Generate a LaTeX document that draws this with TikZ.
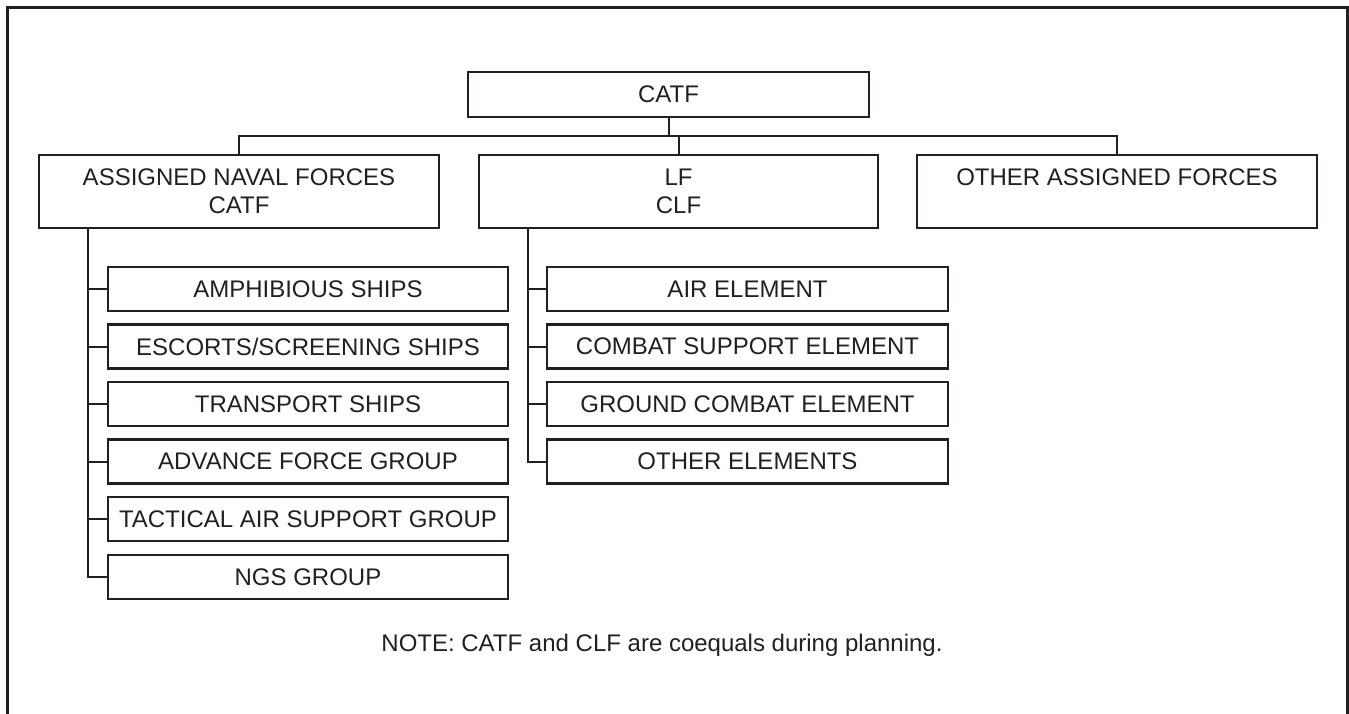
\documentclass[tikz,border=0pt]{standalone}
\usepackage{fontspec}
\setmainfont{Liberation Sans}
\definecolor{ink}{RGB}{35,31,32}
\begin{document}
\begin{tikzpicture}[x=1pt,y=-1pt,
  orgbox/.style={draw=ink,line width=2.2pt,rectangle,inner sep=0pt,
    minimum width=400pt,text=ink,align=center,
    font=\fontsize{24}{28}\selectfont},
  topbox/.style={orgbox,minimum height=73pt},
  subbox/.style={orgbox,minimum height=44pt},
  link/.style={draw=ink,line width=2pt}]
\useasboundingbox (0,0) rectangle (1349,714);
% open frame (no bottom edge)
\draw[ink,line width=3pt] (7.5,714) -- (7.5,7.5) -- (1347.8,7.5) -- (1347.8,714);

% top command
\node[orgbox,minimum width=401pt,minimum height=45pt] (catf) at (668.5,94.5) {CATF};

% second level
\node[topbox] (anf) at (239,191.5) {ASSIGNED NAVAL FORCES\\CATF};
\node[topbox,minimum width=399pt] (lf) at (678.5,191.5) {LF\\CLF};
\node[topbox] (oaf) at (1117,191.5) {OTHER ASSIGNED FORCES\\\mbox{}};

% naval force components
\node[subbox] (s1) at (308,289)   {AMPHIBIOUS SHIPS};
\node[subbox] (s2) at (308,346.5) {ESCORTS/SCREENING SHIPS};
\node[subbox] (s3) at (308,404)   {TRANSPORT SHIPS};
\node[subbox] (s4) at (308,461.5) {ADVANCE FORCE GROUP};
\node[subbox] (s5) at (308,519)   {TACTICAL AIR SUPPORT GROUP};
\node[subbox] (s6) at (308,577)   {NGS GROUP};

% landing force components
\node[subbox,minimum width=401pt] (e1) at (747.5,289)   {AIR ELEMENT};
\node[subbox,minimum width=401pt] (e2) at (747.5,346.5) {COMBAT SUPPORT ELEMENT};
\node[subbox,minimum width=401pt] (e3) at (747.5,404)   {GROUND COMBAT ELEMENT};
\node[subbox,minimum width=401pt] (e4) at (747.5,461.5) {OTHER ELEMENTS};

\node[text=ink,font=\fontsize{24}{28}\selectfont,anchor=base] (note) at (662,651)
  {NOTE: CATF and CLF are coequals during planning.};

% connectors
\coordinate (bus) at (0,136);
\coordinate (ta) at (88,0);
\coordinate (tb) at (528,0);
\draw[link] (catf.south) -- (catf.south |- bus);
\draw[link] (anf.north) -- (anf.north |- bus) -- (oaf.north |- bus) -- (oaf.north);
\draw[link] (lf.north) -- (lf.north |- bus);
\draw[link] (anf.south -| ta) |- (s6.west);
\foreach \n in {s1,s2,s3,s4,s5}
  \draw[link] (\n.west -| ta) -- (\n.west);
\draw[link] (lf.south -| tb) |- (e4.west);
\foreach \n in {e1,e2,e3}
  \draw[link] (\n.west -| tb) -- (\n.west);
\end{tikzpicture}
\end{document}
